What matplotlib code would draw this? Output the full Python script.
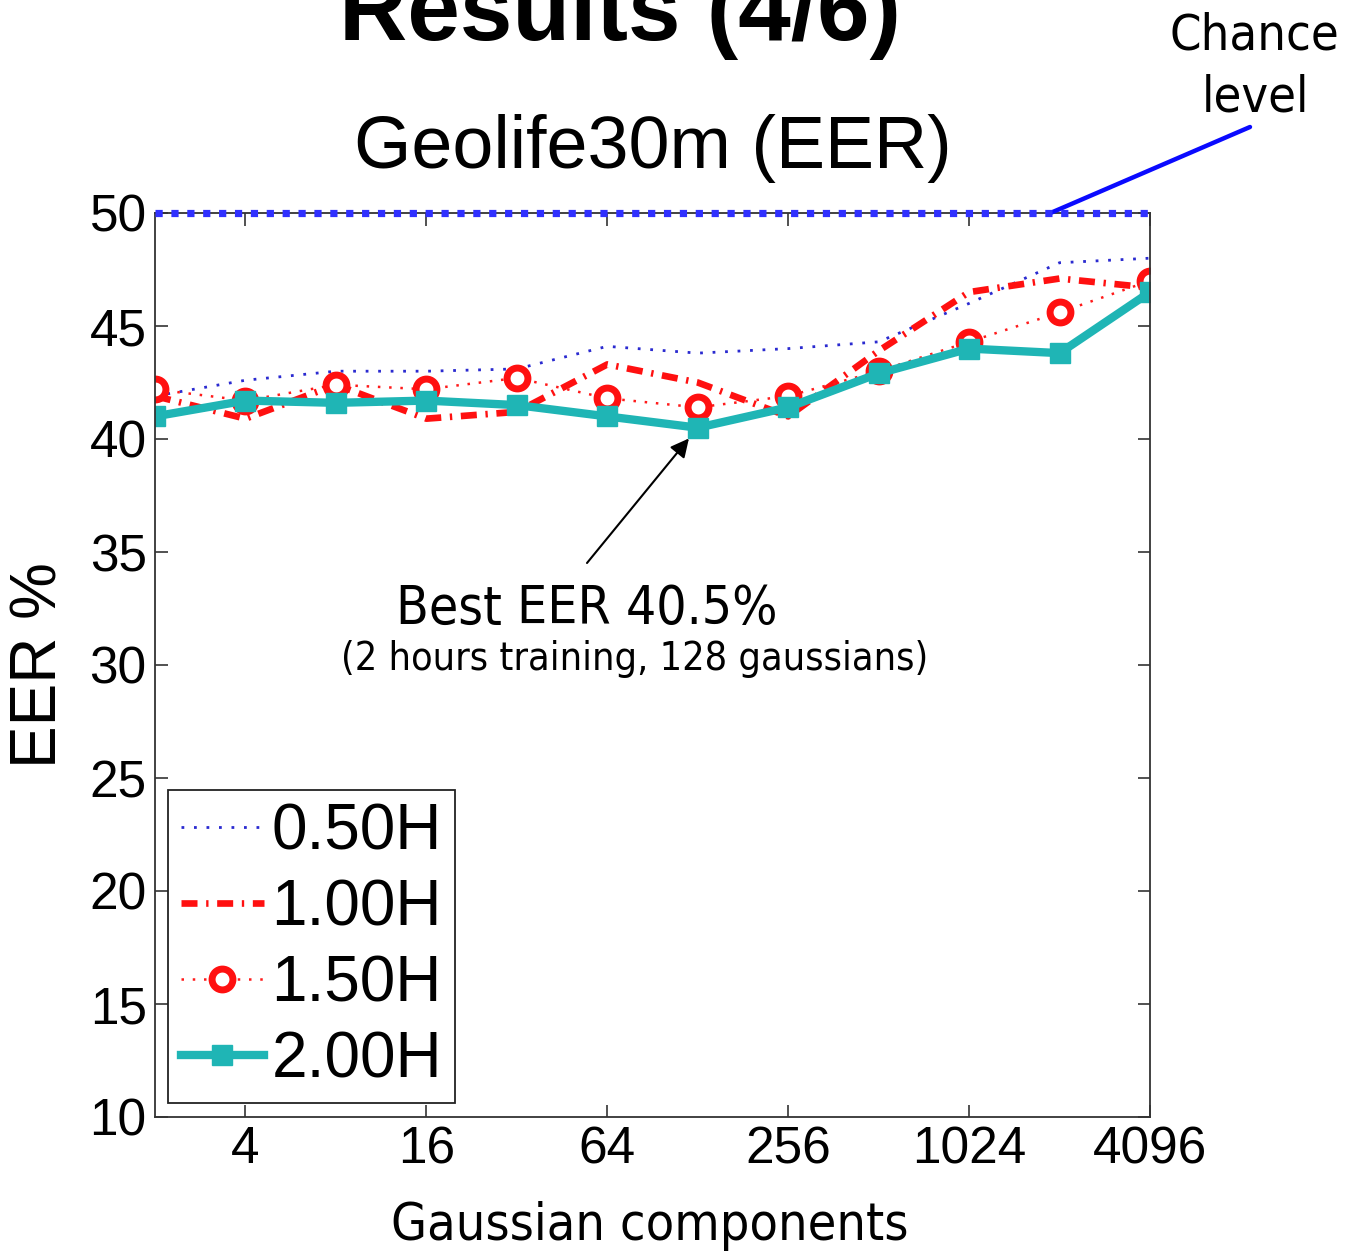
import matplotlib
matplotlib.use("Agg")
import matplotlib.pyplot as plt
from matplotlib import font_manager as fm

# ---- data ----
components = [2, 4, 8, 16, 32, 64, 128, 256, 512, 1024, 2048, 4096]
eer_050h = [41.9, 42.6, 43.0, 43.0, 43.1, 44.1, 43.8, 44.0, 44.3, 46.0, 47.8, 48.0]
eer_100h = [41.9, 40.9, 42.4, 40.9, 41.2, 43.3, 42.5, 41.0, 43.9, 46.5, 47.1, 46.7]
eer_150h = [42.2, 41.7, 42.4, 42.2, 42.7, 41.8, 41.4, 41.9, 43.0, 44.3, 45.6, 47.0]
eer_200h = [41.0, 41.7, 41.6, 41.7, 41.5, 41.0, 40.5, 41.4, 42.9, 44.0, 43.8, 46.5]
series_labels = ["0.50H", "1.00H", "1.50H", "2.00H"]
chance_level = 50
best_point = (128, 40.5)
xtick_values = [4, 16, 64, 256, 1024, 4096]
ytick_values = [10, 15, 20, 25, 30, 35, 40, 45, 50]

W, H = 1345, 1253
fig = plt.figure(figsize=(W / 100, H / 100), dpi=100)
fig.patch.set_facecolor("white")

def fx(px):
    return px / W

def fy(py):
    return 1 - py / H

helv = "Liberation Sans"

# Tahoma-like font: prefer DejaVu Sans Condensed when installed
try:
    cond_path = fm.findfont(fm.FontProperties(family="DejaVu Sans", stretch="condensed"))
except Exception:
    cond_path = ""
if "Condensed" in cond_path:
    def tprop(size):
        return fm.FontProperties(fname=cond_path, size=size * 1.1)
else:
    def tprop(size):
        return fm.FontProperties(family="DejaVu Sans", size=size)

ax = fig.add_axes([fx(155), fy(1117), (1150 - 155) / W, (1117 - 213) / H])
ax.set_xscale("log", base=2)
ax.set_xlim(2, 4096)
ax.set_ylim(10, 50)

# chance line
ax.plot([2, 4096], [chance_level, chance_level], color="#3030ff", lw=5.2,
        linestyle=(0, (1, 1.2)), dash_capstyle="butt", zorder=5, clip_on=False)

l1, = ax.plot(components, eer_050h, color="#2a2ad0", lw=2.0,
              linestyle=(0, (1, 3.5)), label=series_labels[0])
l2, = ax.plot(components, eer_100h, color="#ff1010", lw=4.8,
              linestyle=(0, (2.4, 1.3, 0.35, 1.3)), label=series_labels[1])
l3, = ax.plot(components, eer_150h, color="#ff1a1a", lw=1.8,
              linestyle=(0, (1, 3.5)), marker="o", markersize=15,
              markerfacecolor="white", markeredgecolor="#ff1010",
              markeredgewidth=5, label=series_labels[2])
l4, = ax.plot(components, eer_200h, color="#1fb5b5", lw=6,
              marker="s", markersize=15, markerfacecolor="#1fb5b5",
              markeredgecolor="#1fb5b5", label=series_labels[3])

ax.set_xticks(xtick_values)
ax.set_xticklabels([str(v) for v in xtick_values])
ax.xaxis.set_minor_locator(matplotlib.ticker.NullLocator())
ax.set_yticks(ytick_values)
ax.set_yticklabels([str(v) for v in ytick_values])
ax.tick_params(direction="in", length=9, width=1.2, top=True, right=True,
               labelsize=37, color="#333333", pad=6)
for lab in ax.get_xticklabels() + ax.get_yticklabels():
    lab.set_family(helv)
for sp in ax.spines.values():
    sp.set_linewidth(1.3)
    sp.set_color("#333333")

leg = ax.legend(handles=[l1, l2, l3, l4], loc="lower left",
                bbox_to_anchor=(0.013, 0.0155), borderaxespad=0,
                prop={"family": helv, "size": 46}, fancybox=False,
                edgecolor="#222222", framealpha=1, handlelength=1.3,
                handletextpad=0.12, labelspacing=0.25, borderpad=0.2,
                numpoints=1)
leg.get_frame().set_linewidth(1.3)

# titles and labels
fig.text(fx(620), fy(40), "Results (4/6)", family=helv, weight="bold",
         fontsize=68, ha="center", va="baseline")
fig.text(fx(653), fy(168), "Geolife30m (EER)", family=helv, fontsize=53,
         ha="center", va="baseline")
fig.text(fx(650), fy(1226), "Gaussian components", fontproperties=tprop(34),
         ha="center", va="center")
fig.text(fx(40), fy(665), "EER %", family=helv, fontsize=46,
         ha="center", va="center", rotation=90)

fig.text(fx(1254), fy(35), "Chance", fontproperties=tprop(33),
         ha="center", va="center")
fig.text(fx(1255), fy(97), "level", fontproperties=tprop(33),
         ha="center", va="center")
ax.annotate("", xy=(1910, chance_level), xycoords="data",
            xytext=(fx(1250), fy(127)), textcoords="figure fraction",
            arrowprops=dict(arrowstyle="-", color="#0a0aff", lw=3.2,
                            shrinkA=0, shrinkB=0),
            annotation_clip=False)

fig.text(fx(587), fy(609), "Best EER 40.5%", fontproperties=tprop(34.8),
         ha="center", va="center")
fig.text(fx(635), fy(659), "(2 hours training, 128 gaussians)",
         fontproperties=tprop(25.8), ha="center", va="center")
ax.annotate("", xy=best_point, xycoords="data",
            xytext=(fx(587), fy(563)), textcoords="figure fraction",
            arrowprops=dict(arrowstyle="-|>", color="black", lw=1.5,
                            mutation_scale=28, shrinkA=0, shrinkB=10),
            annotation_clip=False)

fig.savefig("out.png", dpi=100)
